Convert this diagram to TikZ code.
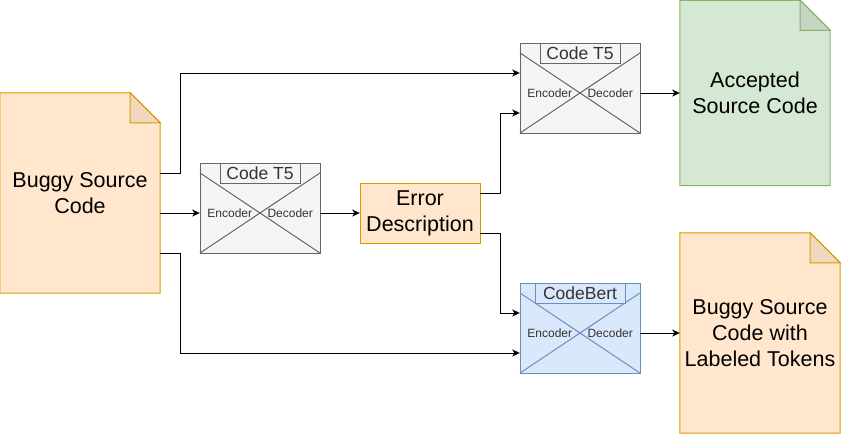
\documentclass[tikz,border=0pt]{standalone}
\usepackage{fontspec}
\setmainfont{Liberation Sans}
\usetikzlibrary{arrows.meta, backgrounds, positioning}
\definecolor{orangefill}{HTML}{FFE6CC}
\definecolor{orangeline}{HTML}{D79B00}
\definecolor{orangefold}{HTML}{F0D8BE}
\definecolor{greenfill}{HTML}{D5E8D4}
\definecolor{greenline}{HTML}{82B366}
\definecolor{greenfold}{HTML}{C5D6C4}
\definecolor{greyfill}{HTML}{F5F5F5}
\definecolor{greyline}{HTML}{666666}
\definecolor{bluefill}{HTML}{DAE8FC}
\definecolor{blueline}{HTML}{6C8EBF}
\definecolor{darktext}{HTML}{333333}
\tikzstyle{doc} = [rectangle, inner sep=0pt, align=center, font=\fontsize{21.5}{26}\selectfont]
\tikzstyle{process} = [rectangle, inner sep=0pt, align=center, minimum width=120pt, minimum height=60pt, fill=orangefill, draw=orangeline, font=\fontsize{21.5}{26}\selectfont]
\tikzstyle{model} = [rectangle, inner sep=0pt, minimum width=120pt, minimum height=90pt, fill=greyfill, draw=greyline]
\tikzstyle{bertmodel} = [model, fill=bluefill, draw=blueline]
\tikzstyle{modeltitle} = [rectangle, inner sep=0pt, minimum height=20pt, text=darktext, font=\fontsize{17.5}{20}\selectfont]
\tikzstyle{modelpart} = [inner sep=0pt, text=darktext, font=\fontsize{12}{14}\selectfont]
\tikzstyle{arrow} = [line width=1pt, -{Stealth[length=7.5pt, width=7pt, inset=2pt]}]
\tikzstyle{link} = [line width=1pt]
% paper sheet with a folded corner, behind the node
\newcommand{\docsheet}[4]{%
  \filldraw[fill=#2, draw=#3, line width=1pt] (#1.south west) -- (#1.north west)
    -- ([xshift=-30pt]#1.north east) -- ([yshift=-30pt]#1.north east) -- (#1.south east) -- cycle;
  \filldraw[fill=#4, draw=#3, line width=1pt] ([xshift=-30pt]#1.north east)
    -- ([xshift=-30pt,yshift=-30pt]#1.north east) -- ([yshift=-30pt]#1.north east) -- cycle;}
% crossed box with title and encoder/decoder labels
\newcommand{\modelparts}[5]{%
  \draw[#5, line width=1pt] ([yshift=-10pt]#1.north west) -- (#1.south east);
  \draw[#5, line width=1pt] ([yshift=-10pt]#1.north east) -- (#1.south west);
  \node (#1title) [modeltitle, minimum width=#3, anchor=north, fill=#4, draw=#5, line width=1pt] at (#1.north) {#2};
  \node (#1enc) [modelpart] at ([xshift=30pt,yshift=-5pt]#1.west) {Encoder};
  \node (#1dec) [modelpart] at ([xshift=-30pt,yshift=-5pt]#1.east) {Decoder};}

\begin{document}
\begin{tikzpicture}[x=1pt, y=-1pt]
\useasboundingbox (0,0) rectangle (841,434);

\node (buggy) [doc, minimum width=160pt, minimum height=200pt] at (80,193) {Buggy Source\\Code};
\node (accepted) [doc, minimum width=150pt, minimum height=185pt] at (755,93) {Accepted\\Source Code};
\node (labeled) [doc, minimum width=160pt, minimum height=200pt] at (760,333) {Buggy Source\\Code with\\Labeled Tokens};
\begin{scope}[on background layer]
\docsheet{buggy}{orangefill}{orangeline}{orangefold}
\docsheet{accepted}{greenfill}{greenline}{greenfold}
\docsheet{labeled}{orangefill}{orangeline}{orangefold}
\end{scope}

\node (t5a) [model] at (260,208) {};
\modelparts{t5a}{Code T5}{80pt}{greyfill}{greyline}
\node (error) [process] at (420,213) {Error\\Description};
\node (t5b) [model] at (580,88) {};
\modelparts{t5b}{Code T5}{80pt}{greyfill}{greyline}
\node (bert) [bertmodel] at (580,328) {};
\modelparts{bert}{CodeBert}{90pt}{bluefill}{blueline}

\draw [arrow] ([yshift=20pt]buggy.east) -- ++(20,0) |- ([yshift=15pt]t5b.west);
\draw [arrow] ([yshift=-20pt]buggy.east) -- ([yshift=-5pt]t5a.west);
\draw [arrow] ([yshift=-60pt]buggy.east) -- ++(20,0) |- ([yshift=-25pt]bert.west);
\draw [arrow] ([yshift=-5pt]t5a.east) -- (error.west);
\draw [arrow] ([yshift=20pt]error.east) -- ++(20,0) |- ([yshift=-25pt]t5b.west);
\draw [arrow] ([yshift=-20pt]error.east) -- ++(20,0) |- ([yshift=15pt]bert.west);
\draw [arrow] ([yshift=-5pt]t5b.east) -- ([yshift=-5pt]t5b.east -| accepted.west);
\draw [arrow] ([yshift=-5pt]bert.east) -- (labeled.west);

\end{tikzpicture}
\end{document}
